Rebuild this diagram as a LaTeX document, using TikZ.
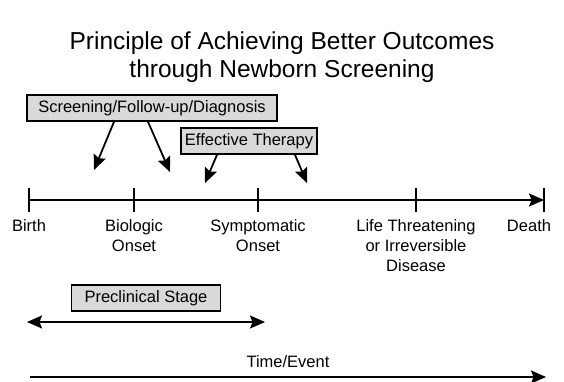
\documentclass[tikz,border=0pt]{standalone}
\usepackage{fontspec}
\setmainfont{Liberation Sans}
\usetikzlibrary{arrows.meta, positioning, calc}
\tikzset{
  tagbox/.style={rectangle, draw, line width=1.6pt, fill=gray!30,
    minimum height=26pt, inner sep=0pt, align=center},
  tick/.style={line width=1.5pt},
  arr/.style={-{Stealth[length=15pt, width=13pt, inset=2.5pt]}, line width=1.8pt},
  biarr/.style={{Stealth[length=15pt, width=13pt, inset=2.5pt]}-{Stealth[length=15pt, width=13pt, inset=2.5pt]}, line width=1.8pt},
}
\begin{document}
\begin{tikzpicture}[x=1pt, y=-1pt, every node/.style={font=\fontsize{16.5}{20}\selectfont}]
  \useasboundingbox (0,0) rectangle (564,382);

  % Title
  \node[align=center, font=\fontsize{24.5}{28}\selectfont] (title) at (282,57)
    {Principle of Achieving Better Outcomes\\through Newborn Screening};

  % Boxes
  \node[tagbox, minimum width=250pt] (screen) at (152,108) {Screening/Follow-up/Diagnosis};
  \node[tagbox, minimum width=136pt] (therapy) at (249,141) {Effective Therapy};
  \node[tagbox, minimum width=149pt] (preclin) at (146,298) {Preclinical Stage};

  % Timeline
  \foreach \name/\x in {birth/29, bio/134, sympt/258, life/416, death/544}{
    \coordinate (\name) at (\x,200);
    \draw[tick] ($(\name)+(0,-12)$) -- ($(\name)+(0,12)$);
  }
  \draw[arr] (birth) -- (death);

  \node[below=16pt of birth, align=center] (lbirth) {Birth};
  \node[below=16pt of bio, align=center] (lbio) {Biologic\\Onset};
  \node[below=16pt of sympt, align=center] (lsympt) {Symptomatic\\Onset};
  \node[below=16pt of life, align=center] (llife) {Life Threatening\\or Irreversible\\Disease};
  \node[below=16pt of death, xshift=-15pt, align=center] (ldeath) {Death};

  % Arrows from the boxes
  \coordinate (s1) at (94,170);
  \coordinate (s2) at (170,172);
  \coordinate (t1) at (205,183);
  \coordinate (t2) at (307,183);
  \draw[arr] ([xshift=-38pt]screen.south) -- (s1);
  \draw[arr] ([xshift=-4pt]screen.south) -- (s2);
  \draw[arr] ([xshift=-32pt]therapy.south) -- (t1);
  \draw[arr] ([xshift=46pt]therapy.south) -- (t2);

  % Preclinical span
  \coordinate (pl) at (27,322);
  \coordinate (pr) at (265,322);
  \draw[biarr] (pl) -- (pr);

  % Time axis
  \coordinate (ts) at (30,377);
  \coordinate (te) at (546,377);
  \draw[arr] (ts) -- node[above=5pt] (ltime) {Time/Event} (te);
\end{tikzpicture}
\end{document}
